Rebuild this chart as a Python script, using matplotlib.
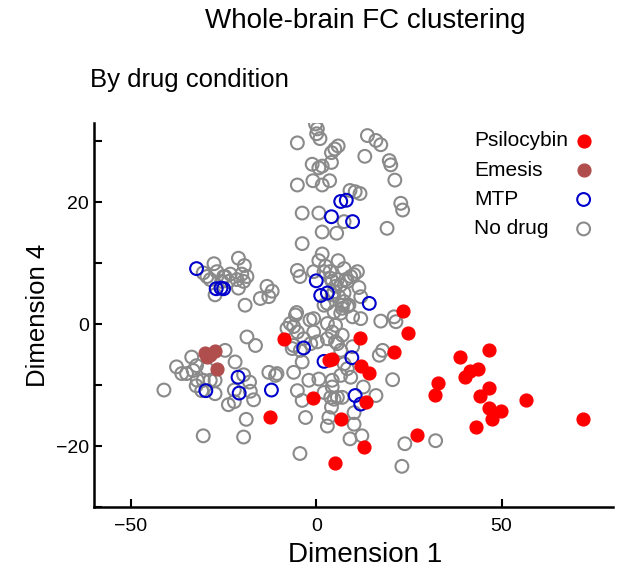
import matplotlib
matplotlib.use("Agg")
import matplotlib.pyplot as plt
import numpy as np

plt.rcParams['font.family'] = ['Liberation Sans', 'DejaVu Sans']

# Psilocybin (filled red)
psilo_x = [23.3, 24.7, 21.0, -8.6, 11.7, 3.4, 4.3, 12.2, 14.2, 32.8, 32.1, -0.9,
           13.3, -12.6, 6.6, 27.3, 12.8, 5.0, 46.6, 38.8, 43.6, 41.6, 40.0,
           46.6, 44.1, 56.7, 46.6, 49.8, 47.5, 71.9, 43.0]
psilo_y = [2.1, -1.4, -4.6, -2.4, -2.2, -5.9, -5.7, -6.9, -8.0, -9.7, -11.6, -12.1,
           -12.7, -15.3, -15.6, -18.1, -20.2, -22.7, -4.3, -5.4, -7.3, -7.7, -8.7,
           -10.5, -11.8, -12.5, -13.8, -14.2, -15.5, -15.6, -16.8]

# Emesis (filled brown)
emesis_x = [-30.0, -28.6, -27.3, -29.5, -26.8]
emesis_y = [-4.7, -5.1, -4.4, -5.4, -7.4]

# MTP (open blue)
mtp_x = [-32.3, -27.0, -25.7, -25.0, 6.6, 8.1, 4.1, 9.8, 0.0, 1.2, 3.0, 14.3,
         -3.4, 2.1, 9.6, -12.1, 10.5, 12.0, -21.1, -20.8, -29.8]
mtp_y = [9.1, 5.8, 5.9, 5.8, 20.1, 20.3, 17.6, 16.8, 7.1, 4.7, 5.1, 3.4,
         -3.9, -6.1, -5.5, -10.8, -11.7, -13.1, -8.7, -11.3, -10.9]

# No drug (open gray)
nodrug_x = [-0.2, 0.3, 0.1, 1.0, -5.1, 13.8, 16.1, 17.4, 5.9, 5.0, 4.1, 13.1,
            -1.1, 1.6, 0.7, 4.1, 19.7, 20.1, 21.2, -5.1, -0.9, 1.6, 3.6, 9.1,
            10.5, 11.8, 22.8, 23.3, -3.8, 0.7, 7.5, 19.1, 1.6, 5.5, -3.8, 1.6,
            0.7, 5.9, -5.1, -4.4, 2.5, 3.7, 7.5, 11.1, 10.2, -0.7, 2.1, 3.9,
            5.7, 7.9, 9.3, 6.6, 4.3, 8.4, 11.5, 4.8, 6.1, 7.5, 8.8, 3.0,
            12.0, -13.3, -11.9, -12.8, -5.3, 4.8, 7.0, 5.2, 4.3, 7.5, 7.0, 8.4,
            2.1,
            -27.6, -21.0, -19.4, -26.8, -25.0, -23.2, -20.1, -18.7, -29.5, -28.6,
            -21.4, -21.0, -27.3, -19.2, -15.1, -30.5, -24.6, -25.5, -23.7, -19.6,
            9.8, 12.0, 3.0, -0.7, -1.7, -5.6, -7.0, -7.9, -6.1, -5.1, 17.4, 21.0,
            21.5, -0.7, 4.3, 7.0, 3.0, 5.2, 0.3, -3.4, -6.1, -4.3, 9.8, 17.9,
            17.0, 5.2, 6.6, -6.5, -1.5, 5.7, 6.6, 7.5, -3.8, -6.1, -10.6, -12.8,
            -11.0, -2.0, 0.7, 4.3, 6.6, 9.3, 8.4, -5.1, -3.8, 2.1, 4.8, 7.0,
            3.9, 5.7, 4.1, 4.3, 16.1, 12.7, 20.6, -2.9, 3.4, 3.0, 10.2, 10.2,
            9.1, 12.3, -4.4, 23.9, 32.2, 23.1,
            -18.7, -16.4, -24.6, -33.6, -37.7, -36.3, -35.0, -32.3, -33.2, -29.5,
            -21.9, -19.6, -18.0, -17.8, -16.9, -22.1, -23.7, -22.1, -32.1, -30.5,
            -28.6, -32.4, -30.9, -27.3, -27.3, -41.1, -18.9, -30.5, -19.6]
nodrug_y = [32.8, 32.0, 31.2, 30.4, 29.7, 30.9, 30.1, 29.4, 29.2, 28.7, 28.1, 27.5,
            26.2, 25.9, 25.6, 26.5, 26.8, 26.1, 23.6, 22.8, 23.5, 22.8, 23.5, 21.9,
            21.7, 21.4, 19.8, 18.7, 18.2, 18.2, 16.8, 15.7, 15.1, 14.9, 13.2, 11.5,
            10.4, 10.4, 8.8, 7.8, 9.5, 8.6, 9.1, 8.6, 8.1, 8.6, 8.6, 7.5,
            7.3, 7.3, 7.8, 6.4, 7.0, 7.0, 6.0, 5.3, 4.5, 3.7, 3.1, 3.4,
            4.5, 6.2, 5.4, 4.5, 1.9, 2.0, 2.6, 6.2, 4.8, 5.1, 3.1, 2.9,
            3.1,
            9.9, 10.8, 9.6, 8.6, 7.8, 8.2, 8.2, 7.8, 7.8, 7.3,
            7.3, 5.9, 4.8, 3.1, 4.2, 8.4, 7.8, 7.0, 7.0, 7.0,
            1.2, 0.9, 0.1, 0.9, 0.7, 1.5, 0.1, -0.7, -0.4, -1.3, 0.5, 1.2,
            0.4, -1.3, -1.3, -1.8, -2.4, -2.9, -2.9, -2.4, -3.5, -4.3, -3.7, -4.3,
            -5.1, -0.2, 1.8, -4.0, -3.2, -3.2, -4.3, -6.5, -6.2, -7.9, -8.1, -7.9,
            -8.4, -9.2, -9.0, -9.2, -8.4, -8.7, -7.3, -10.9, -12.5, -11.2, -12.3, -12.0,
            -12.0, -12.0, -13.6, -10.3, -11.7, -10.3, -9.1, -15.3, -15.3, -16.7, -14.5, -16.4,
            -18.8, -18.3, -21.2, -19.6, -19.1, -23.3,
            -2.1, -3.5, -4.3, -5.4, -7.0, -8.1, -8.1, -6.8, -7.6, -7.3,
            -6.2, -8.3, -9.5, -11.0, -12.4, -10.8, -13.2, -12.7, -9.2, -9.2,
            -9.2, -10.1, -10.9, -11.4, -9.2, -10.8, -15.6, -18.3, -18.5]

fig = plt.figure(figsize=(6.43, 5.79), dpi=100)
ax = fig.add_axes([0.146, 0.124, 0.807, 0.664])

s = 85
ax.scatter(nodrug_x, nodrug_y, s=s, facecolors='none', edgecolors='#8a8a8a', linewidths=1.5, label='No drug', zorder=2)
ax.scatter(mtp_x, mtp_y, s=s, facecolors='none', edgecolors='#0000cc', linewidths=1.5, label='MTP', zorder=3)
ax.scatter(emesis_x, emesis_y, s=s, color='#b04e4e', label='Emesis', zorder=4)
ax.scatter(psilo_x, psilo_y, s=s, color='#ff0000', label='Psilocybin', zorder=5)

ax.set_xlim(-60, 80)
ax.set_ylim(-30, 33)
ax.set_xticks([-50, 0, 50])
ax.set_yticks([-30, -20, -10, 0, 10, 20, 30])
ax.set_yticklabels(['', '\u221220', '', '0', '', '20', ''])
ax.tick_params(direction='in', length=6, width=1.5, labelsize=14)
ax.tick_params(axis='x', pad=8)
for side in ['top', 'right']:
    ax.spines[side].set_visible(False)
for side in ['left', 'bottom']:
    ax.spines[side].set_linewidth(1.8)

ax.set_xlabel('Dimension 1', fontsize=20)
ax.set_ylabel('Dimension 4', fontsize=18.5)
ax.xaxis.set_label_coords(0.522, -0.09)

handles, labels = ax.get_legend_handles_labels()
order = [3, 2, 1, 0]
leg = ax.legend([handles[i] for i in order], [labels[i] for i in order], loc='upper right',
                frameon=False, markerfirst=False, fontsize=15, handletextpad=0.35,
                handlelength=0.8, labelspacing=0.5, bbox_to_anchor=(0.996, 1.027))

# left-align legend labels while keeping markers in one column
fig.canvas.draw()
r = fig.canvas.get_renderer()
rows = leg._legend_handle_box.get_children()[0].get_children()
widths = [row.get_children()[0].get_window_extent(r).width for row in rows]
wmax = max(widths)
for row, w in zip(rows, widths):
    row.sep += (wmax - w) * 72.0 / fig.dpi

fig.text(0.568, 0.963, 'Whole-brain FC clustering', ha='center', va='center', fontsize=20)
fig.text(0.14, 0.862, 'By drug condition', ha='left', va='center', fontsize=18.5)

fig.savefig('out.png', dpi=100)
